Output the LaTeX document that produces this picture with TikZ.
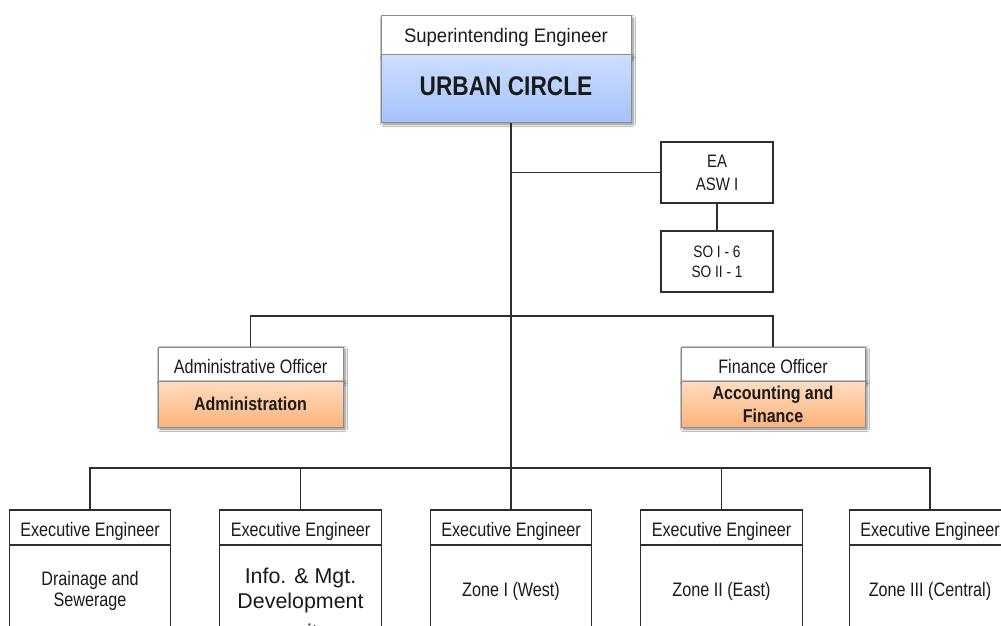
\documentclass[tikz,border=0pt]{standalone}
\usepackage{fontspec}
\setmainfont{Liberation Sans}
\newfontfamily\narrowfont[FakeStretch=0.83]{Liberation Sans}
\newfontfamily\titlefont[FakeStretch=0.95]{Liberation Sans}
\newfontfamily\boldnarrow[FakeStretch=0.86]{Liberation Sans}
\newfontfamily\headfont[FakeStretch=0.84]{Liberation Sans}
\usetikzlibrary{shadows.blur}

\definecolor{inkc}{HTML}{1A1A1A}
\definecolor{linec}{HTML}{2E2E2E}
\definecolor{framec}{HTML}{8C8C8C}
\definecolor{bluetop}{HTML}{CDDEFF}
\definecolor{bluebot}{HTML}{A5C3FB}
\definecolor{orangetop}{HTML}{FFDCC0}
\definecolor{orangebot}{HTML}{FBB47D}

\begin{document}
\begin{tikzpicture}[x=1pt,y=-1pt,
  every node/.style={inner sep=0pt, align=center, text=inkc},
  conn/.style={draw=linec, line width=1.2pt},
  softshadow/.style={blur shadow={shadow xshift=2pt, shadow yshift=-2pt,
      shadow blur radius=2.5pt, shadow opacity=50}},
  hbox/.style={rectangle, draw=framec, line width=1pt, fill=white, softshadow},
  bluebody/.style={rectangle, draw=framec, line width=1pt,
      top color=bluetop, bottom color=bluebot, softshadow},
  orangebody/.style={rectangle, draw=framec, line width=1pt,
      top color=orangetop, bottom color=orangebot, softshadow},
  plainbox/.style={rectangle, draw=linec, line width=1.1pt, fill=white},
  capline/.style={text height=14pt, text depth=0pt},
  regtext/.style={font=\narrowfont\fontsize{19.5}{23}\selectfont},
  boldtext/.style={font=\boldnarrow\bfseries\fontsize{18.6}{23}\selectfont},
  infotext/.style={font=\fontsize{21.4}{25}\selectfont, anchor=base},
]
\useasboundingbox (0,0) rectangle (1001,626);
\clip (0,0) rectangle (1001,626);
\fill[white] (0,0) rectangle (1001,626);

% connector junctions
\coordinate (bus1) at (511,316);
\coordinate (bus2) at (511,468);

% head of the circle
\node[hbox, minimum width=250pt, minimum height=40pt, capline, yshift=-1pt,
  font=\titlefont\fontsize{19.5}{23}\selectfont] (seh) at (506,35)
  {Superintending Engineer};
\node[bluebody, minimum width=250pt, minimum height=67pt,
  text height=19.5pt, text depth=0pt,
  font=\headfont\bfseries\fontsize{27}{30}\selectfont] (ub) at (506,88.5)
  {\raisebox{2.5pt}{URBAN CIRCLE}};

% staff attached to the head
\node[plainbox, minimum width=112pt, minimum height=61pt,
  font=\narrowfont\fontsize{18}{23}\selectfont] (ea) at (717,172.5)
  {EA\\ASW I};
\node[plainbox, minimum width=112pt, minimum height=61pt,
  font=\narrowfont\fontsize{16.5}{20}\selectfont] (so) at (717,261.5)
  {SO I - 6\\SO II - 1};

% officers
\node[hbox, minimum width=185pt, minimum height=34pt, regtext, capline] (aoh) at (250.5,364)
  {\raisebox{-2pt}{Administrative Officer}};
\node[orangebody, minimum width=185pt, minimum height=46pt, boldtext,
  text height=13.3pt, text depth=0pt] (aob) at (250.5,404)
  {Administration};
\node[hbox, minimum width=184pt, minimum height=34pt, regtext, capline] (foh) at (773,364)
  {\raisebox{-2pt}{Finance Officer}};
\node[orangebody, minimum width=184pt, minimum height=46pt, boldtext] (fob) at (773,404)
  {Accounting and\\Finance};

% executive engineers
\foreach \n/\x in {1/90, 2/300.5, 3/511, 4/721.5, 5/930}{
  \node[plainbox, minimum width=161.5pt, minimum height=35pt, regtext, capline]
    (eh\n) at (\x,527.5) {\raisebox{-2pt}{Executive Engineer}};
}
\node[plainbox, minimum width=161.5pt, minimum height=92pt, regtext] (eb1) at (90,591)
  {\raisebox{1pt}{\begin{tabular}{@{}c@{}}Drainage and\\[-2pt]Sewerage\end{tabular}}};
\node[plainbox, minimum width=161.5pt, minimum height=92pt] (eb2) at (300.5,591) {};
\node[infotext] (eb2a) at (300.5,583) {Info. \& Mgt.};
\node[infotext] (eb2b) at (300.5,608) {Development};
\node[infotext] (eb2c) at (300.5,639.5) {unit};
\node[plainbox, minimum width=161.5pt, minimum height=92pt, regtext, capline] (eb3) at (511,591)
  {\raisebox{2pt}{Zone I (West)}};
\node[plainbox, minimum width=161.5pt, minimum height=92pt, regtext, capline] (eb4) at (721.5,591)
  {\raisebox{2pt}{Zone II (East)}};
\node[plainbox, minimum width=161.5pt, minimum height=92pt, regtext, capline] (eb5) at (930,591)
  {\raisebox{2pt}{Zone III (Central)}};

% connectors
\draw[conn] (ub.south -| bus2) -- (bus2);
\draw[conn] (ea.west -| bus2) -- (ea.west);
\draw[conn] (ea.south) -- (so.north);
\draw[conn] (aoh.north) |- (bus1) -| (foh.north);
\draw[conn] (eh1.north) |- (bus2) -| (eh5.north);
\foreach \n in {2,3,4}{
  \draw[conn] (eh\n.north) -- (eh\n.north |- bus2);
}
\end{tikzpicture}
\end{document}
